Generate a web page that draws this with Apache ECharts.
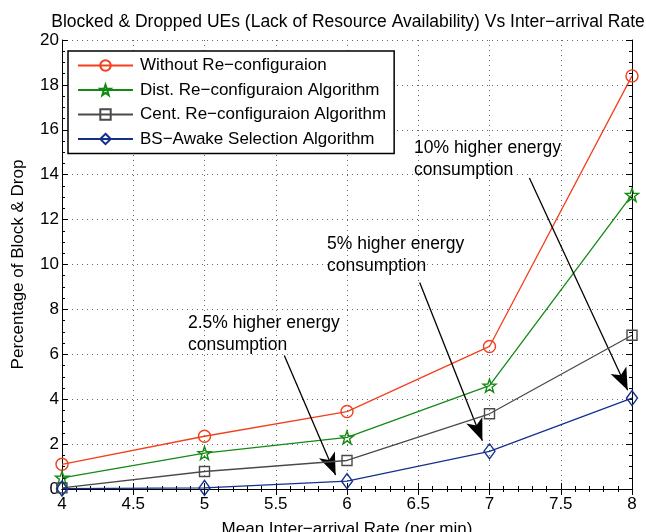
<!DOCTYPE html>
<html><head><meta charset="utf-8">
<script src="https://cdn.jsdelivr.net/npm/echarts@6/dist/echarts.min.js"></script>
<style>html,body{margin:0;padding:0;background:#fff}#c{width:646px;height:532px}</style>
</head><body><div id="c"></div>
<script>
const xValues = [4, 5, 6, 7, 8];
const seriesNames = ['Without Re−configuraion', 'Dist. Re−configuraion Algorithm', 'Cent. Re−configuraion Algorithm', 'BS−Awake Selection Algorithm'];
const withoutReconf = [1.1, 2.35, 3.45, 6.35, 18.4];
const distReconf = [0.5, 1.6, 2.3, 4.6, 13.1];
const centReconf = [0.05, 0.78, 1.27, 3.35, 6.85];
const bsAwake = [0.02, 0.05, 0.35, 1.68, 4.05];
const arrows = [
  [[7.28, 13.85], [7.97, 4.4]],
  [[6.51, 9.2], [6.95, 2.15]],
  [[5.56, 5.95], [5.92, 0.62]]
];
const annotations = [
  {text: '10% higher energy\nconsumption', left: 414, top: 137},
  {text: '5% higher energy\nconsumption', left: 327, top: 233},
  {text: '2.5% higher energy\nconsumption', left: 188, top: 312}
];
const FONT = '"Liberation Sans", Arial, sans-serif';
const chart = echarts.init(document.getElementById('c'));
const star = 'path://M0,-10 L2.35,-3.24 L9.51,-3.09 L3.8,1.24 L5.88,8.09 L0,4 L-5.88,8.09 L-3.8,1.24 L-9.51,-3.09 L-2.35,-3.24 Z';
const colors = ['#f2401e', '#138a13', '#4a4a4a', '#14308c'];
const symbols = ['circle', star, 'rect', 'diamond'];
const sizes = [12, 13, 10, [11, 15]];
const datasets = [withoutReconf, distReconf, centReconf, bsAwake];
const series = datasets.map((d, i) => ({
  name: seriesNames[i], type: 'line',
  data: xValues.map((x, j) => [x, d[j]]),
  symbol: symbols[i], symbolSize: sizes[i],
  lineStyle: {color: colors[i], width: 1.3},
  itemStyle: {color: 'rgba(255,255,255,0)', borderColor: colors[i], borderWidth: 1.4},
  color: colors[i],
  z: 3 + i,
  animation: false
}));
series.push({
  type: 'line', data: [], silent: true,
  markLine: {
    silent: true, animation: false,
    symbol: ['none', 'arrow'], symbolSize: [13, 22],
    lineStyle: {color: '#000', width: 1.3, type: 'solid'},
    label: {show: false},
    data: arrows.map(a => [{coord: a[0]}, {coord: a[1]}])
  }
});
const axisCommon = {
  axisLine: {show: true, lineStyle: {color: '#000', width: 1}},
  axisTick: {show: true, inside: true, length: 6, lineStyle: {color: '#000'}},
  minorTick: {show: true, splitNumber: 5, length: 3, lineStyle: {color: '#000'}}
};
const yMinor = {minorTick: {show: true, splitNumber: 4, length: 3, lineStyle: {color: '#000'}}};
chart.setOption({
  animation: false,
  backgroundColor: '#fff',
  title: {text: 'Blocked & Dropped UEs (Lack of Resource Availability) Vs Inter−arrival Rate', left: 343, textAlign: 'center', top: 8,
    textStyle: {fontFamily: FONT, fontSize: 17.5, fontWeight: 'normal', color: '#000'}},
  legend: {
    orient: 'vertical', left: 68, top: 51, padding: [6, 8, 6, 9], itemGap: 7.5,
    itemWidth: 55, itemHeight: 13,
    borderColor: '#000', borderWidth: 1.5, borderRadius: 0, backgroundColor: '#fff',
    textStyle: {fontFamily: FONT, fontSize: 17, color: '#000', padding: [0, 0, 0, 2]},
    data: seriesNames
  },
  grid: {left: 62, right: 14, top: 40, bottom: 43, containLabel: false, outerBoundsMode: 'none'},
  xAxis: [
    Object.assign({type: 'value', min: 4, max: 8, interval: 0.5, name: 'Mean Inter−arrival Rate (per min)', nameLocation: 'middle', nameGap: 32,
      nameTextStyle: {fontFamily: FONT, fontSize: 17, color: '#000'},
      axisLabel: {fontFamily: FONT, fontSize: 17, color: '#000', margin: 7},
      splitLine: {show: true, lineStyle: {color: '#666', type: [1, 4], width: 1}}}, axisCommon),
    Object.assign({type: 'value', min: 4, max: 8, interval: 0.5, position: 'top', axisLabel: {show: false}, splitLine: {show: false}}, axisCommon)
  ],
  yAxis: [
    Object.assign({type: 'value', min: 0, max: 20, interval: 2, name: 'Percentage of Block & Drop', nameLocation: 'middle', nameGap: 35,
      nameTextStyle: {fontFamily: FONT, fontSize: 17, color: '#000'},
      axisLabel: {fontFamily: FONT, fontSize: 17, color: '#000', margin: 3},
      splitLine: {show: true, lineStyle: {color: '#666', type: [1, 4], width: 1}}}, axisCommon, yMinor),
    Object.assign({type: 'value', min: 0, max: 20, interval: 2, position: 'right', axisLabel: {show: false}, splitLine: {show: false}}, axisCommon, yMinor)
  ],
  graphic: annotations.map(a => ({
    type: 'text', left: a.left, top: a.top, z: 100,
    style: {text: a.text, font: '17.5px ' + FONT, fill: '#000', lineHeight: 22}
  })),
  series: series
});
</script></body></html>
